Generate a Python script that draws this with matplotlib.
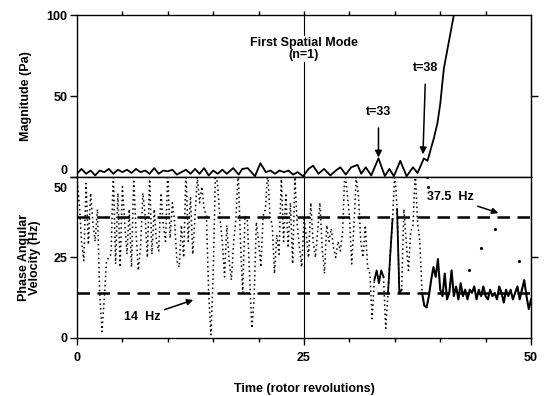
import matplotlib
matplotlib.use("Agg")
import matplotlib.pyplot as plt
import matplotlib.transforms as mtransforms
import numpy as np

plt.rcParams['font.family'] = ['Liberation Sans', 'DejaVu Sans']

# ---------------- data ----------------
mag_t = [0, 0.5, 1.0, 1.5, 2.0, 2.5, 3.0, 3.5, 4.0, 4.5, 5.0, 5.5, 6.0, 6.5, 7.0, 7.5,
         8.0, 8.5, 9.0, 9.5, 10.0, 10.5, 11.0, 11.5, 12.0, 12.5, 13.0, 13.5, 14.0, 14.5,
         15.0, 15.5, 16.0, 16.5, 17.2, 17.8, 18.2, 18.8, 19.6, 20.2, 20.8, 21.3, 21.8,
         22.3, 22.8, 23.3, 23.8, 24.3, 24.9, 25.5, 26.0, 26.6, 27.2, 27.9, 28.5, 29.0,
         29.6, 30.2, 30.9, 31.3, 31.8, 32.4, 33.2, 33.9, 34.4, 34.9, 35.6, 36.3, 37.0,
         37.5, 38.2, 38.6, 39.3, 39.7, 40.0, 40.4, 41.0, 41.5]
mag_v = [2, 5, 2, 4, 1, 4, 3, 5, 2, 4.5, 3, 4.5, 2.5, 5, 3, 4,
         2, 5.5, 2, 4, 3.5, 4.5, 1.5, 3, 4.5, 2, 5, 2, 5.5, 1,
         4, 2, 4.5, 2, 5.5, 1.5, 5, 5.5, 0.5, 8.5, 3, 4, 2,
         4, 3, 4, 1.5, 3, 0.5, 5, 7, 2, 5, 1, 4, 6,
         1.5, 6, 7.5, 2, 6, 1, 11.5, 0.6, 5, 0.5, 10, 0.5, 6,
         2.5, 11.5, 10, 24, 33.5, 45, 67, 85, 100]

phase_dot_t = list(np.arange(0, 38.01, 0.25))
phase_dot_v = [50, 42, 30, 24, 48, 29, 45, 36, 30, 40, 14, 2, 12, 24, 25, 26,
               52, 23, 45, 22, 47, 36, 26, 40, 22, 50, 33, 21, 28, 45, 38, 25,
               50, 26, 40, 30, 27, 45, 35, 30, 52, 31, 42, 36, 24, 22, 35, 25,
               52, 30, 44, 26, 38, 50, 42, 47, 40, 38, 14, 1, 20, 52, 47, 37,
               30, 19, 35, 24, 18, 30, 37, 52, 30, 14, 38, 37, 20, 3, 12, 36,
               30, 22, 38, 40, 52, 38, 35, 20, 32, 26, 50, 30, 45, 28, 42, 23,
               50, 35, 28, 22, 37, 32, 25, 42, 30, 25, 33, 42, 28, 20, 35, 30,
               34, 28, 25, 30, 27, 33, 52, 45, 38, 23, 35, 50, 44, 30, 25, 35,
               22, 20, 6, 18, 21, 17, 21, 19, 3, 14, 26, 37, 52, 40, 14, 15,
               40, 30, 21, 33, 35, 52, 36, 30, 14]

solid_seg1_t = [32.75, 33.0, 33.25, 33.5, 33.75]
solid_seg1_v = [18, 21, 17, 21, 19]
solid_seg2_t = [34.25, 34.5, 34.75]
solid_seg2_v = [14, 26, 37]
solid_seg3_t = [35.25, 35.5, 35.75]
solid_seg3_v = [40, 14, 15]

phase_line_t = list(np.arange(38, 50.01, 0.25))
phase_line_v = [14, 10, 9.5, 13, 18, 22, 19, 24.5, 15, 13, 20, 12, 14, 21, 13, 16,
                12, 17, 13, 15, 12, 15, 14, 16, 12, 15, 13, 16, 13, 12, 15, 13,
                14, 12, 16, 14, 11, 15, 13, 15, 12, 14, 16, 12, 15, 18, 13, 9, 12]

stray_t = [38.5, 38.6, 43.2, 44.5, 46.0, 48.7]
stray_v = [50, 47, 21, 28, 34, 24]

ref_levels = [37.5, 14]

# ---------------- figure ----------------
fig = plt.figure(figsize=(5.5, 3.96), dpi=100)
L, R = 0.14, 0.9655
ax1 = fig.add_axes([L, 0.553, R - L, 0.962 - 0.553])
ax2 = fig.add_axes([L, 0.1465, R - L, 0.553 - 0.1465])

fs = 9
fw = 'bold'
for ax in (ax1, ax2):
    ax.set_xlim(0, 50)
    for s in ax.spines.values():
        s.set_linewidth(1.0)
    ax.axvline(25, color='k', lw=0.8, zorder=1)

# top panel
ax1.plot(mag_t, mag_v, color='k', lw=1.3, zorder=3)
ax1.set_ylim(0, 100)
ax1.set_yticks([0, 50, 100])
ax1.set_yticklabels(['0', '50', '100'], fontsize=fs, fontweight=fw)
ax1.tick_params(axis='y', direction='out', length=5, width=1, pad=2)
ax1.xaxis.set_ticks_position('top')
ax1.set_xticks(np.arange(5, 50, 5))
ax1.tick_params(axis='x', direction='out', length=3, width=1, labeltop=False, labelbottom=False)
ax1r = ax1.secondary_yaxis('right')
ax1r.set_yticks([50])
ax1r.set_yticklabels([])
ax1r.tick_params(direction='out', length=5, width=1)
lab0 = ax1.get_yticklabels()[0]
lab0.set_transform(lab0.get_transform() + mtransforms.ScaledTranslation(0, 8/100, fig.dpi_scale_trans))
ax1.set_ylabel('Magnitude (Pa)', fontsize=fs, fontweight=fw)
ax1.yaxis.set_label_coords(-0.099, 0.5)

ax1.text(25, 79, 'First Spatial Mode\n(n=1)', ha='center', va='center', fontsize=fs,
         fontweight=fw, linespacing=1.0,
         bbox=dict(facecolor='white', edgecolor='none', pad=1), zorder=4)
ax1.annotate('t=33', xy=(33.2, 12), xytext=(33.2, 40), ha='center', va='center',
             fontsize=fs, fontweight=fw,
             arrowprops=dict(arrowstyle='-|>', color='k', lw=1.1, mutation_scale=10, shrinkA=5, shrinkB=0))
ax1.annotate('t=38', xy=(38.1, 14), xytext=(38.4, 67), ha='center', va='center',
             fontsize=fs, fontweight=fw,
             arrowprops=dict(arrowstyle='-|>', color='k', lw=1.1, mutation_scale=10, shrinkA=5, shrinkB=0))

# bottom panel
ax2.plot(phase_dot_t, phase_dot_v, color='k', lw=1.1, linestyle=(0, (1, 2)), zorder=3)
for st, sv in ((solid_seg1_t, solid_seg1_v), (solid_seg2_t, solid_seg2_v), (solid_seg3_t, solid_seg3_v)):
    ax2.plot(st, sv, color='k', lw=1.3, zorder=3)
ax2.plot(phase_line_t, phase_line_v, color='k', lw=1.5, zorder=3)
ax2.plot(stray_t, stray_v, 'k.', ms=2.5, zorder=3)
for lvl in ref_levels:
    ax2.axhline(lvl, color='k', lw=1.8, dashes=(5, 3), zorder=2)
ax2.set_ylim(0, 50)
ax2.set_yticks([0, 25, 50])
ax2.set_yticklabels(['0', '25', '50'], fontsize=fs, fontweight=fw)
ax2.tick_params(axis='y', direction='out', length=5, width=1, pad=2)
lab50 = ax2.get_yticklabels()[2]
lab50.set_transform(lab50.get_transform() + mtransforms.ScaledTranslation(0, -10/100, fig.dpi_scale_trans))
ax2.set_xticks([0, 25, 50])
ax2.set_xticklabels(['0', '25', '50'], fontsize=fs, fontweight=fw)
ax2.set_xticks(np.arange(5, 50, 5), minor=True)
ax2.tick_params(axis='x', which='major', direction='out', length=5, width=1, pad=5)
ax2.tick_params(axis='x', which='minor', direction='out', length=3, width=1)
ax2r = ax2.secondary_yaxis('right')
ax2r.set_yticks([25])
ax2r.set_yticklabels([])
ax2r.tick_params(direction='out', length=5, width=1)
ax2.set_ylabel('Phase Angular\nVelocity (Hz)', fontsize=fs, fontweight=fw, linespacing=0.95)
ax2.yaxis.set_label_coords(-0.079, 0.5)
ax2.set_xlabel('Time (rotor revolutions)', fontsize=fs, fontweight=fw, labelpad=14)

ax2.annotate('37.5  Hz', xy=(46.4, 38.8), xytext=(41.1, 43.8), ha='center', va='center',
             fontsize=fs, fontweight=fw,
             arrowprops=dict(arrowstyle='-|>', color='k', lw=1.1, mutation_scale=9, shrinkA=1, shrinkB=0))
ax2.annotate('14  Hz', xy=(12.8, 11.8), xytext=(7.2, 6.5), ha='center', va='center',
             fontsize=fs, fontweight=fw,
             arrowprops=dict(arrowstyle='-|>', color='k', lw=1.1, mutation_scale=9, shrinkA=1, shrinkB=0))

fig.savefig('out.png', dpi=100)
